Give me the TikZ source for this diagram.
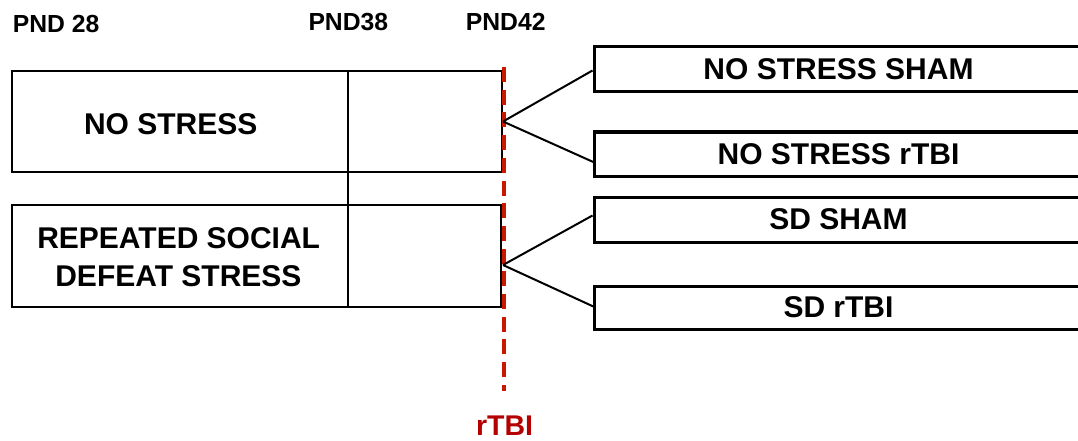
\documentclass[tikz,border=0pt]{standalone}
\usepackage{fontspec}
\setmainfont{Liberation Sans}
\definecolor{tbired}{RGB}{200,24,0}
\definecolor{tbitext}{RGB}{180,0,0}
\tikzset{
  lbox/.style={draw=black, line width=2pt, inner sep=0pt, fill=none},
  rbox/.style={draw=black, line width=3pt, inner sep=0pt, minimum width=489pt,
     font=\fontsize{30}{36}\selectfont\bfseries},
  bigtxt/.style={inner sep=0pt, anchor=base, font=\fontsize{30}{36}\selectfont\bfseries},
  pndtxt/.style={inner sep=0pt, anchor=base west, font=\fontsize{24.7}{30}\selectfont\bfseries},
  fan/.style={draw=black, line width=2pt},
  redline/.style={draw=tbired, line width=4pt, dash pattern=on 15pt off 7.7pt}
}
\begin{document}
\begin{tikzpicture}[x=1pt,y=-1pt]
\useasboundingbox (0,0) rectangle (1078,441);
% timepoint labels
\node[pndtxt] (p28) at (12.7,33) {PND 28};
\node[pndtxt] (p38) at (308.3,30.7) {PND38};
\node[pndtxt] (p42) at (465.7,30.7) {PND42};
% left boxes
\node[lbox, minimum width=490pt, minimum height=101pt] (ns) at (257,121.5) {};
\node[lbox, minimum width=489pt, minimum height=102pt] (sd) at (256.5,256) {};
\coordinate (dtop) at (348,71);
\coordinate (dbot) at (348,307);
\draw[line width=2.3pt] (dtop) -- (dbot);
\node[bigtxt] (nstxt) at (170.7,135) {NO STRESS};
\node[bigtxt] (sdtxt1) at (178.7,248.3) {REPEATED SOCIAL};
\node[bigtxt] (sdtxt2) at (178.4,286.7) {DEFEAT STRESS};
% right boxes
\node[rbox, minimum height=45pt] (r1) at (838.5,69.5) {NO STRESS SHAM};
\node[rbox, minimum height=44pt] (r2) at (838.5,154) {NO STRESS rTBI};
\node[rbox, minimum height=45pt] (r3) at (838.5,219.5) {SD SHAM};
\node[rbox, minimum height=43pt] (r4) at (838.5,307.5) {SD rTBI};
% rTBI line
\coordinate (rt) at (503.5,67);
\coordinate (rb) at (503.5,391);
\draw[redline] (rt) -- (rb);
\node[inner sep=0pt, anchor=base, text=tbitext, font=\fontsize{28.5}{34}\selectfont\bfseries] (rl) at (504.5,435.4) {rTBI};
% fan connectors
\draw[fan] (ns.east) -- ([shift={(0,1)}]r1.west);
\draw[fan] (ns.east) -- ([shift={(3,9)}]r2.west);
\draw[fan] ([shift={(1,9)}]sd.east) -- ([shift={(0,-4)}]r3.west);
\draw[fan] ([shift={(1,9)}]sd.east) -- ([shift={(3,0)}]r4.west);
\end{tikzpicture}
\end{document}
